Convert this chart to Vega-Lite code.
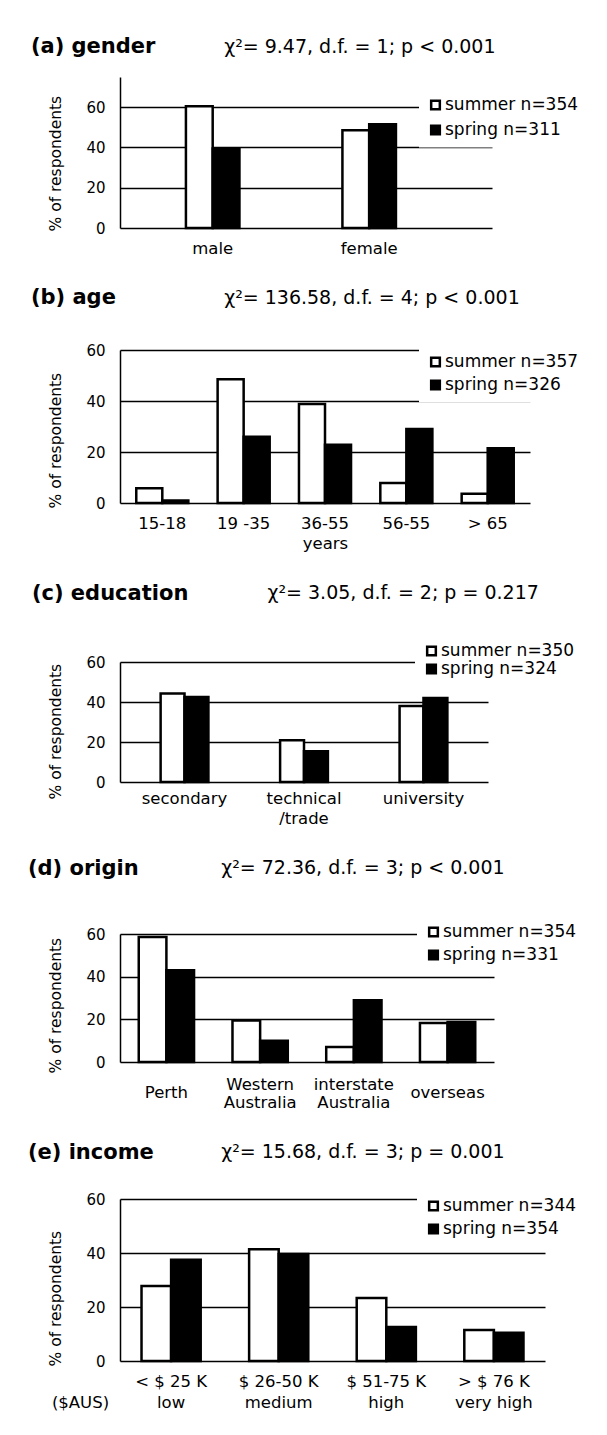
{
  "$schema": "https://vega.github.io/schema/vega-lite/v6.json",
  "background": "white",
  "padding": {"left": 27, "top": 36, "right": 5, "bottom": 5},
  "spacing": 30,
  "datasets": {
    "gender": [
      {"cat": "male", "season": "summer", "pct": 60.5},
      {"cat": "male", "season": "spring", "pct": 39.5},
      {"cat": "female", "season": "summer", "pct": 48.5},
      {"cat": "female", "season": "spring", "pct": 51.5}
    ],
    "age": [
      {"cat": "15-18", "season": "summer", "pct": 5.8},
      {"cat": "15-18", "season": "spring", "pct": 1},
      {"cat": "19 -35", "season": "summer", "pct": 48.5},
      {"cat": "19 -35", "season": "spring", "pct": 26},
      {"cat": "36-55", "season": "summer", "pct": 38.8},
      {"cat": "36-55", "season": "spring", "pct": 22.8},
      {"cat": "56-55", "season": "summer", "pct": 7.8},
      {"cat": "56-55", "season": "spring", "pct": 29},
      {"cat": "> 65", "season": "summer", "pct": 3.6},
      {"cat": "> 65", "season": "spring", "pct": 21.5}
    ],
    "education": [
      {"cat": "secondary", "season": "summer", "pct": 44.3},
      {"cat": "secondary", "season": "spring", "pct": 42.5},
      {"cat": "technical\n/trade", "season": "summer", "pct": 20.9},
      {"cat": "technical\n/trade", "season": "spring", "pct": 15.4},
      {"cat": "university", "season": "summer", "pct": 38},
      {"cat": "university", "season": "spring", "pct": 42}
    ],
    "origin": [
      {"cat": "Perth", "season": "summer", "pct": 58.6},
      {"cat": "Perth", "season": "spring", "pct": 43},
      {"cat": "Western\nAustralia", "season": "summer", "pct": 19.5},
      {"cat": "Western\nAustralia", "season": "spring", "pct": 10},
      {"cat": "interstate\nAustralia", "season": "summer", "pct": 7},
      {"cat": "interstate\nAustralia", "season": "spring", "pct": 28.9},
      {"cat": "overseas", "season": "summer", "pct": 18.3},
      {"cat": "overseas", "season": "spring", "pct": 18.7}
    ],
    "income": [
      {"cat": "< $ 25 K\nlow", "season": "summer", "pct": 27.8},
      {"cat": "< $ 25 K\nlow", "season": "spring", "pct": 37.5},
      {"cat": "$ 26-50 K\nmedium", "season": "summer", "pct": 41.4},
      {"cat": "$ 26-50 K\nmedium", "season": "spring", "pct": 39.6},
      {"cat": "$ 51-75 K\nhigh", "season": "summer", "pct": 23.3},
      {"cat": "$ 51-75 K\nhigh", "season": "spring", "pct": 12.6},
      {"cat": "> $ 76 K\nvery high", "season": "summer", "pct": 11.5},
      {"cat": "> $ 76 K\nvery high", "season": "spring", "pct": 10.5}
    ]
  },
  "resolve": {
    "scale": {"x": "independent", "y": "independent", "xOffset": "independent", "color": "independent"},
    "legend": {"color": "independent"}
  },
  "vconcat": [
    {
      "title": {"text": "(a) gender", "subtitle": "\u200b\u00a0\u00a0\u00a0\u00a0\u00a0\u00a0\u00a0\u00a0\u00a0\u00a0\u00a0\u00a0\u00a0\u00a0\u00a0\u00a0\u00a0\u00a0\u00a0\u00a0\u00a0\u00a0\u00a0\u00a0\u00a0\u00a0\u00a0\u00a0\u00a0\u00a0\u00a0\u00a0χ²= 9.47, d.f. = 1; p < 0.001", "offset": 20, "dx": -18},
      "width": 372,
      "height": 151,
      "data": {"name": "gender"},
      "mark": {"type": "bar"},
      "encoding": {
        "x": {"field": "cat", "type": "nominal", "sort": null, "title": null,
              "scale": {"paddingInner": 0.658, "paddingOuter": 0.5175, "align": 0.407}},
        "xOffset": {"field": "season", "type": "nominal", "sort": ["summer", "spring"], "scale": {"paddingInner": 0, "paddingOuter": 0}},
        "y": {"field": "pct", "type": "quantitative", "scale": {"domain": [0, 75]},
              "axis": {"values": [0, 20, 40, 60], "title": "% of respondents", "titleY": 154}},
        "color": {"field": "season", "type": "nominal",
                  "scale": {"domain": ["summer", "spring"], "range": ["white", "black"]},
                  "legend": {"orient": "none", "legendX": 299, "legendY": 11.5, "title": null, "rowPadding": 6,
                             "labelExpr": "datum.label == 'summer' ? 'summer n=354' : 'spring n=311'"}}
      }
    },
    {
      "title": {"text": "(b) age", "subtitle": "\u200b\u00a0\u00a0\u00a0\u00a0\u00a0\u00a0\u00a0\u00a0\u00a0\u00a0\u00a0\u00a0\u00a0\u00a0\u00a0\u00a0\u00a0\u00a0\u00a0\u00a0\u00a0\u00a0\u00a0\u00a0\u00a0\u00a0\u00a0\u00a0\u00a0\u00a0\u00a0\u00a0χ²= 136.58, d.f. = 4; p < 0.001", "offset": 35, "dx": -18},
      "width": 410,
      "height": 153,
      "data": {"name": "age"},
      "mark": {"type": "bar"},
      "encoding": {
        "x": {"field": "cat", "type": "nominal", "sort": null, "title": "years",
              "scale": {"paddingInner": 0.36, "paddingOuter": 0.2},
              "axis": {"titlePadding": 4, "titleFontSize": 16.5}},
        "xOffset": {"field": "season", "type": "nominal", "sort": ["summer", "spring"], "scale": {"paddingInner": 0, "paddingOuter": 0}},
        "y": {"field": "pct", "type": "quantitative", "scale": {"domain": [0, 60]},
              "axis": {"values": [0, 20, 40, 60], "title": "% of respondents", "titleY": 158}},
        "color": {"field": "season", "type": "nominal",
                  "scale": {"domain": ["summer", "spring"], "range": ["white", "black"]},
                  "legend": {"orient": "none", "legendX": 299, "legendY": -4.5, "title": null, "rowPadding": 4,
                             "labelExpr": "datum.label == 'summer' ? 'summer n=357' : 'spring n=326'"}}
      }
    },
    {
      "title": {"text": "(c) education", "subtitle": "\u200b\u00a0\u00a0\u00a0\u00a0\u00a0\u00a0\u00a0\u00a0\u00a0\u00a0\u00a0\u00a0\u00a0\u00a0\u00a0\u00a0\u00a0\u00a0\u00a0\u00a0\u00a0\u00a0\u00a0\u00a0\u00a0\u00a0\u00a0\u00a0\u00a0\u00a0\u00a0\u00a0\u00a0\u00a0\u00a0\u00a0\u00a0\u00a0\u00a0χ²= 3.05, d.f. = 2; p = 0.217", "offset": 31, "dx": -17},
      "width": 368,
      "height": 120,
      "data": {"name": "education"},
      "mark": {"type": "bar"},
      "encoding": {
        "x": {"field": "cat", "type": "nominal", "sort": null, "title": null,
              "scale": {"paddingInner": 0.6, "paddingOuter": 0.34},
              "axis": {"labelExpr": "split(datum.label, '\\n')", "labelPadding": 8, "labelLineHeight": 20}},
        "xOffset": {"field": "season", "type": "nominal", "sort": ["summer", "spring"], "scale": {"paddingInner": 0, "paddingOuter": 0}},
        "y": {"field": "pct", "type": "quantitative", "scale": {"domain": [0, 60]},
              "axis": {"values": [0, 20, 40, 60], "title": "% of respondents", "titleY": 137}},
        "color": {"field": "season", "type": "nominal",
                  "scale": {"domain": ["summer", "spring"], "range": ["white", "black"]},
                  "legend": {"orient": "none", "legendX": 295, "legendY": -27.5, "title": null, "rowPadding": -2,
                             "labelExpr": "datum.label == 'summer' ? 'summer n=350' : 'spring n=324'"}}
      }
    },
    {
      "title": {"text": "(d) origin", "subtitle": "\u200b\u00a0\u00a0\u00a0\u00a0\u00a0\u00a0\u00a0\u00a0\u00a0\u00a0\u00a0\u00a0\u00a0\u00a0\u00a0\u00a0\u00a0\u00a0\u00a0\u00a0\u00a0\u00a0\u00a0\u00a0\u00a0\u00a0\u00a0\u00a0\u00a0\u00a0\u00a0\u00a0χ²= 72.36, d.f. = 3; p < 0.001", "offset": 37, "dx": -21},
      "width": 374,
      "height": 128,
      "data": {"name": "origin"},
      "mark": {"type": "bar"},
      "encoding": {
        "x": {"field": "cat", "type": "nominal", "sort": null, "title": null,
              "scale": {"paddingInner": 0.41, "paddingOuter": 0.2},
              "axis": {"labelExpr": "split(datum.label, '\\n')", "labelLineHeight": 18.5,
                       "labelPadding": {"condition": {"test": "datum.value == 'Perth' || datum.value == 'overseas'", "value": 22}, "value": 14}}},
        "xOffset": {"field": "season", "type": "nominal", "sort": ["summer", "spring"], "scale": {"paddingInner": 0, "paddingOuter": 0}},
        "y": {"field": "pct", "type": "quantitative", "scale": {"domain": [0, 60]},
              "axis": {"values": [0, 20, 40, 60], "title": "% of respondents", "titleY": 139}},
        "color": {"field": "season", "type": "nominal",
                  "scale": {"domain": ["summer", "spring"], "range": ["white", "black"]},
                  "legend": {"orient": "none", "legendX": 297, "legendY": -18.5, "title": null, "rowPadding": 4,
                             "labelExpr": "datum.label == 'summer' ? 'summer n=354' : 'spring n=331'"}}
      }
    },
    {
      "title": {"text": "(e) income", "subtitle": "\u200b\u00a0\u00a0\u00a0\u00a0\u00a0\u00a0\u00a0\u00a0\u00a0\u00a0\u00a0\u00a0\u00a0\u00a0\u00a0\u00a0\u00a0\u00a0\u00a0\u00a0\u00a0\u00a0\u00a0\u00a0\u00a0\u00a0\u00a0\u00a0\u00a0\u00a0\u00a0\u00a0χ²= 15.68, d.f. = 3; p = 0.001", "offset": 27, "dx": -21},
      "width": 425,
      "height": 162,
      "data": {"name": "income"},
      "mark": {"type": "bar"},
      "encoding": {
        "x": {"field": "cat", "type": "nominal", "sort": null, "title": "($AUS)",
              "scale": {"paddingInner": 0.45, "paddingOuter": 0.2},
              "axis": {"labelExpr": "split(datum.label, '\\n')", "labelLineHeight": 21,
                       "titleX": -40, "titleY": 33, "titleAlign": "center", "titleBaseline": "top", "titleFontSize": 16.5}},
        "xOffset": {"field": "season", "type": "nominal", "sort": ["summer", "spring"], "scale": {"paddingInner": 0, "paddingOuter": 0}},
        "y": {"field": "pct", "type": "quantitative", "scale": {"domain": [0, 60]},
              "axis": {"values": [0, 20, 40, 60], "title": "% of respondents", "titleY": 167}},
        "color": {"field": "season", "type": "nominal",
                  "scale": {"domain": ["summer", "spring"], "range": ["white", "black"]},
                  "legend": {"orient": "none", "legendX": 297, "legendY": -9.5, "title": null, "rowPadding": 4,
                             "labelExpr": "datum.label == 'summer' ? 'summer n=344' : 'spring n=354'"}}
      }
    }
  ],
  "config": {
    "font": "DejaVu Sans",
    "view": {"stroke": null},
    "bar": {"stroke": "black", "strokeWidth": 2.5},
    "axis": {
      "labelColor": "black", "titleColor": "black", "domainColor": "black", "gridColor": "black",
      "ticks": false, "tickSize": 0, "labelFont": "DejaVu Sans", "titleFont": "DejaVu Sans",
      "titleFontWeight": "normal"
    },
    "axisX": {"domain": false, "grid": false, "labelAngle": 0, "labelFontSize": 16.5, "labelPadding": 12},
    "axisY": {"domain": true, "domainWidth": 1.5, "grid": true, "gridWidth": 1.5, "labelFontSize": 15,
              "labelPadding": 15, "titleFontSize": 15.5, "titlePadding": 22, "titleAlign": "left", "titleAngle": -90},
    "legend": {
      "fillColor": "white", "padding": 8, "labelFontSize": 17, "labelFont": "DejaVu Sans", "labelColor": "black",
      "symbolType": "square", "symbolSize": 75, "symbolStrokeColor": "black", "symbolStrokeWidth": 2,
      "labelOffset": 1, "labelLimit": 300
    },
    "title": {
      "anchor": "start", "frame": "bounds", "font": "DejaVu Sans", "fontSize": 21, "fontWeight": "bold", "color": "black",
      "subtitleFont": "DejaVu Sans", "subtitleFontSize": 19, "subtitleColor": "black", "subtitlePadding": -19.5
    }
  }
}
